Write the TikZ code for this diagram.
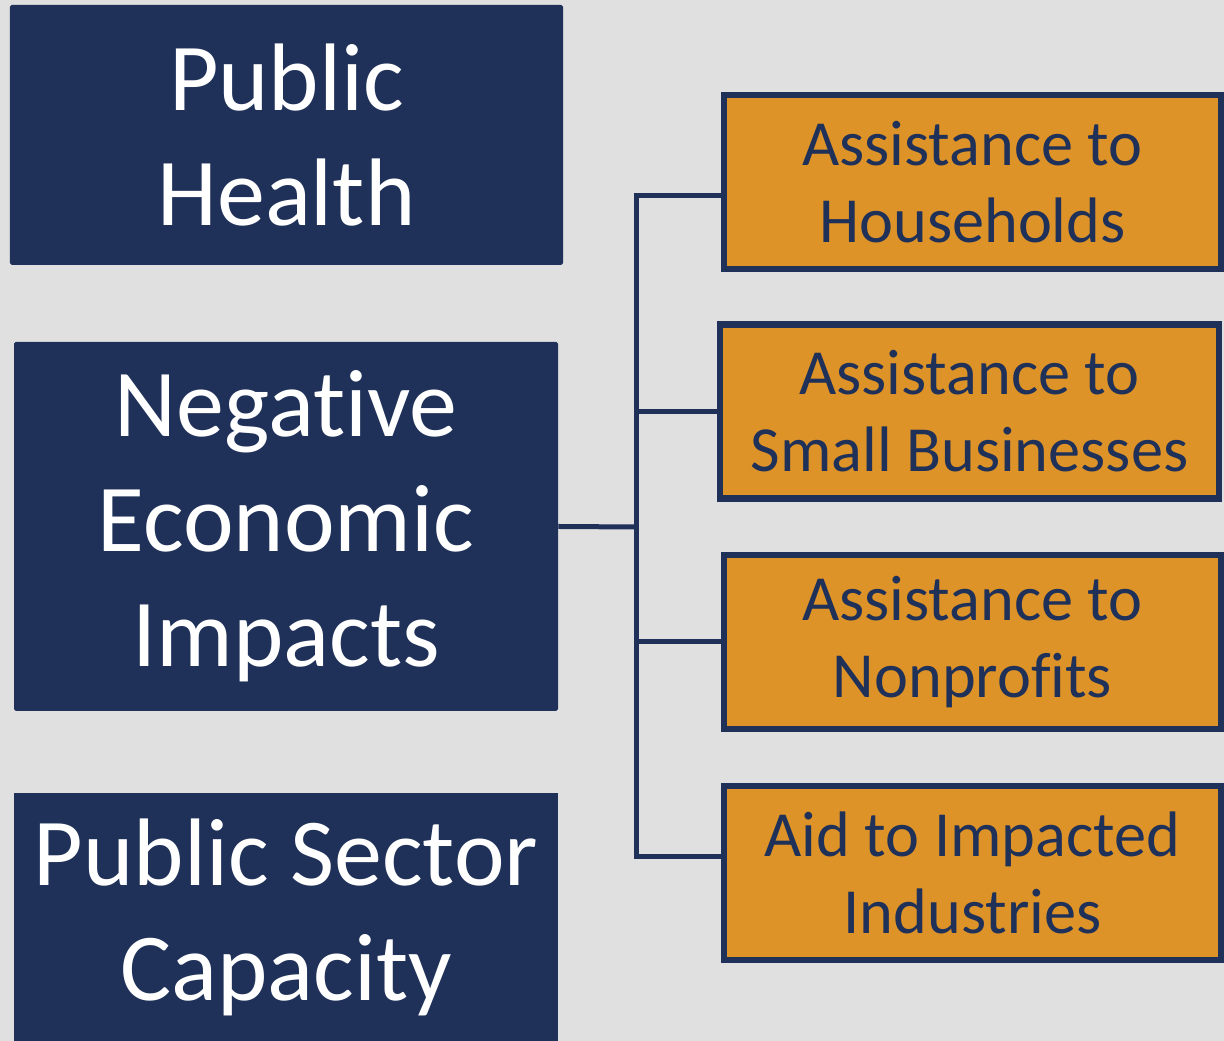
\documentclass[tikz,border=0pt]{standalone}
\usepackage{fontspec}
\setmainfont{Carlito}[Ligatures=NoCommon]
\definecolor{navy}{RGB}{31,49,89}
\definecolor{amber}{RGB}{221,147,39}
\definecolor{paper}{RGB}{224,224,224}
\begin{document}
\begin{tikzpicture}[
  bigbox/.style={fill=navy, text=white, rounded corners=1pt, align=center, inner sep=0pt,
    font=\fontsize{54.6}{65.4}\selectfont},
  subbox/.style={draw=navy, line width=0.13cm, fill=amber, text=navy, align=center, inner sep=0pt,
    minimum width=9.94cm, minimum height=3.48cm, font=\fontsize{36.6}{43.8}\selectfont},
  link/.style={draw=navy, line width=0.1cm}]
\fill[paper] (0,0) rectangle (24.48,20.82);
\useasboundingbox (0,0) rectangle (24.48,20.82);

\node[bigbox, minimum width=11.06cm, minimum height=5.2cm] (health) at (5.73,18.12) {Public\\Health};
\node[bigbox, minimum width=10.88cm, minimum height=7.38cm] (econ) at (5.72,10.29) {Negative\\Economic\\Impacts};
\node[bigbox, minimum width=10.88cm, minimum height=4.96cm, rounded corners=0pt] (sector) at (5.72,2.48) {Public Sector\\Capacity};

\node[subbox] (house) at (19.45,17.18) {Assistance to\\Households};
\node[subbox, minimum width=9.98cm] (small) at (19.39,12.59) {Assistance to\\Small Businesses};
\node[subbox] (nonprofit) at (19.45,7.98) {Assistance to\\Nonprofits};
\node[subbox] (industry) at (19.45,3.36) {Aid to Impacted\\Industries};

\coordinate (trunk) at (12.72,10.28);
\draw[link] (econ.east) -- (trunk);
\draw[link] ([yshift=-0.28cm]house.west) -| (trunk);
\draw[link] ([yshift=0.32cm]industry.west) -| (trunk);
\draw[link] (small.west) -- (small.west -| trunk);
\draw[link] (nonprofit.west) -- (nonprofit.west -| trunk);
\end{tikzpicture}
\end{document}
